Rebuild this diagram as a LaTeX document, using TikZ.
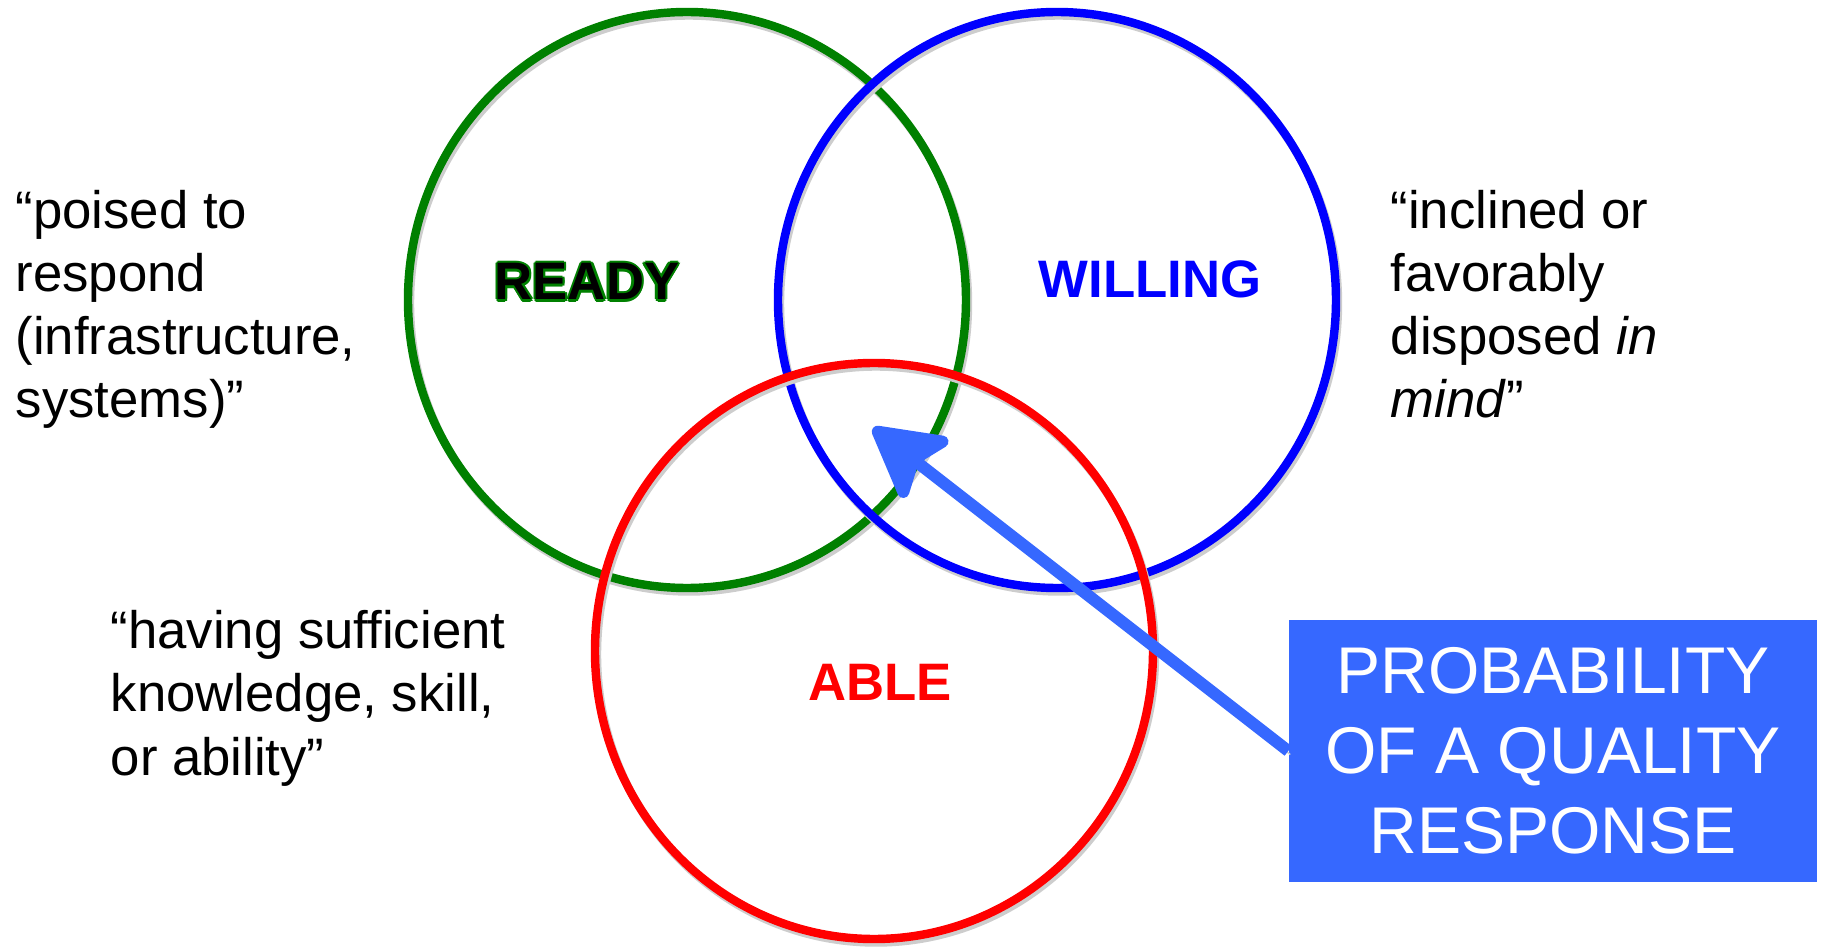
\documentclass[tikz,border=0pt]{standalone}
\usepackage{fontspec}
\setmainfont{Liberation Sans}
\usepackage{xcolor}
\usepackage{tikz}
\usetikzlibrary{shapes.geometric, arrows.meta, shadows}
\definecolor{readycolor}{RGB}{0,128,0}
\definecolor{willingcolor}{RGB}{0,0,255}
\definecolor{ablecolor}{RGB}{255,0,0}
\definecolor{responsecolor}{RGB}{54,104,255}
\definecolor{shadowgray}{RGB}{205,205,205}

\tikzset{
    ring/.style={ellipse, draw, line width=2.4pt, inner sep=0pt,
        minimum width=5.58cm, minimum height=5.76cm,
        drop shadow={draw=shadowgray, fill=none, opacity=1,
            shadow xshift=0.2mm, shadow yshift=-0.35mm}},
    tag/.style={anchor=base, inner sep=0pt,
        font=\fontsize{15pt}{18pt}\selectfont\bfseries},
    quote/.style={anchor=base west, inner sep=0pt, align=left,
        font=\fontsize{15pt}{18pt}\selectfont},
    answer/.style={rectangle, fill=responsecolor, text=white, inner sep=0pt,
        minimum width=5.28cm, minimum height=2.62cm, align=center,
        font=\fontsize{18.8pt}{22.8pt}\selectfont},
    pointer/.style={draw=responsecolor, line width=3.4pt,
        -{Stealth[length=0.8cm, width=0.88cm, inset=0.16cm, round]},
        drop shadow={draw=shadowgray, fill=none, opacity=1,
            shadow xshift=0.2mm, shadow yshift=-0.35mm}}
}

\begin{document}
\begin{tikzpicture}
    \useasboundingbox (0,0) rectangle (18.23,9.46);

    % the three rings
    \node[ring, draw=readycolor] (ready) at (6.87,6.46) {};
    \node[ring, draw=willingcolor] (willing) at (10.57,6.46) {};
    \node[ring, draw=ablecolor] (able) at (8.74,2.95) {};

    % ring names (READY is black with a green rim)
    \foreach \n/\dx/\dy in {1/0.6pt/0pt, 2/-0.6pt/0pt, 3/0pt/0.6pt, 4/0pt/-0.6pt,
                           5/0.45pt/0.45pt, 6/-0.45pt/0.45pt, 7/0.45pt/-0.45pt, 8/-0.45pt/-0.45pt} {
        \node[tag, text=readycolor, xshift=\dx, yshift=\dy] (readyrim\n) at (5.87,6.46) {READY};
    }
    \node[tag, text=black] (readytag) at (5.87,6.46) {READY};
    \node[tag, text=willingcolor] (willingtag) at (11.50,6.48) {WILLING};
    \node[tag, text=ablecolor] (abletag) at (8.80,2.46) {ABLE};

    % definitions (anchored at their last line)
    \node[quote] (readyquote) at (0.15,5.28)
        {“poised to\\respond\\(infrastructure,\\systems)”};
    \node[quote] (willingquote) at (13.90,5.28)
        {“inclined or\\favorably\\disposed \textit{in}\\\textit{mind}”};
    \node[quote] (ablequote) at (1.10,1.71)
        {“having sufficient\\knowledge, skill,\\or ability”};

    % probability box and arrow
    \node[answer] (prob) at (15.53,1.95) {PROBABILITY\\OF A QUALITY\\RESPONSE};
    \coordinate (core) at (8.73,5.18);
    \draw[pointer] (prob.west) -- (core);
\end{tikzpicture}
\end{document}
